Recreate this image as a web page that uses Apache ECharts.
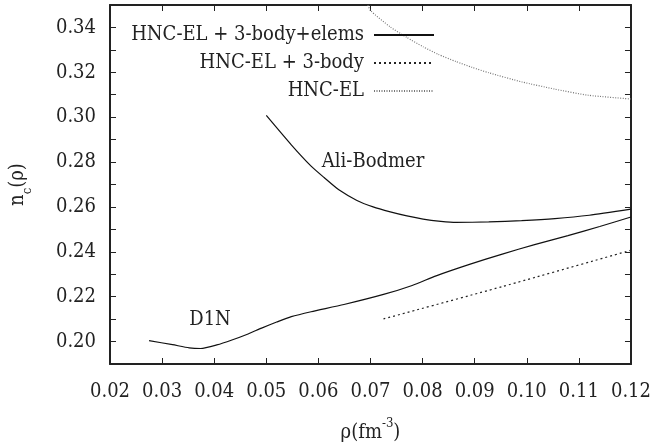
<!DOCTYPE html>
<html>
<head>
<meta charset="utf-8">
<script src="https://cdn.jsdelivr.net/npm/echarts@6/dist/echarts.min.js"></script>
<style>
  html, body { margin: 0; padding: 0; background: #fff; }
  #chart { width: 654px; height: 448px; }
</style>
</head>
<body>
<div id="chart"></div>
<script>
// values
var aliX = [0.0500, 0.0548, 0.0586, 0.0611, 0.0640, 0.0674, 0.0705, 0.0738, 0.0770, 0.0801, 0.0835, 0.0864, 0.0927, 0.0990, 0.1054, 0.1120, 0.1200];
var aliY = [0.3008, 0.2877, 0.2782, 0.2731, 0.2675, 0.2629, 0.2600, 0.2578, 0.2560, 0.2546, 0.2536, 0.2531, 0.2533, 0.2539, 0.2548, 0.2563, 0.2590];
var d1nX = [0.0275, 0.0320, 0.0352, 0.0374, 0.0405, 0.0434, 0.0465, 0.0491, 0.0520, 0.0548, 0.0586, 0.0649, 0.0725, 0.0780, 0.0826, 0.0890, 0.0953, 0.1015, 0.1079, 0.1140, 0.1200];
var d1nY = [0.2004, 0.1986, 0.1972, 0.1969, 0.1985, 0.2007, 0.2034, 0.2060, 0.2087, 0.2111, 0.2133, 0.2165, 0.2210, 0.2250, 0.2293, 0.2344, 0.2390, 0.2432, 0.2472, 0.2513, 0.2555];
var threeBodyX = [0.0725, 0.0953, 0.1200];
var threeBodyY = [0.2101, 0.2245, 0.2407];
var hncX = [0.0695, 0.0700, 0.0738, 0.0770, 0.0801, 0.0830, 0.0864, 0.0895, 0.0927, 0.0991, 0.1054, 0.1117, 0.1200];
var hncY = [0.3500, 0.3475, 0.3402, 0.3355, 0.3314, 0.3280, 0.3248, 0.3222, 0.3198, 0.3157, 0.3125, 0.3098, 0.3081];

var legendNames = ['HNC-EL + 3-body+elems', 'HNC-EL + 3-body', 'HNC-EL'];
var labelAli = { text: 'Ali-Bodmer', x: 0.0705, y: 0.2801 };
var labelD1n = { text: 'D1N', x: 0.0392, y: 0.2098 };

function pairs(xs, ys) {
  return xs.map(function (x, i) { return [x, ys[i]]; });
}

var font = '"DejaVu Serif Condensed", "DejaVu Serif"';
var fs = 20;

var chart = echarts.init(document.getElementById('chart'));

var tickStyle = { show: true, inside: true, length: 6, lineStyle: { color: '#222', width: 1 } };
var axisLine = { show: true, onZero: false, lineStyle: { color: '#222', width: 2 } };

function textMark(lbl) {
  return {
    symbol: 'rect',
    symbolSize: 1,
    itemStyle: { color: 'rgba(0,0,0,0)' },
    label: { show: true, position: 'inside', formatter: lbl.text, fontFamily: font, fontSize: fs, color: '#222' },
    data: [{ coord: [lbl.x, lbl.y] }]
  };
}

var option = {
  animation: false,
  grid: { left: 110, right: 17, top: 5, bottom: 79 },
  legend: {
    data: legendNames,
    orient: 'vertical',
    align: 'right',
    right: 214,
    top: 20,
    itemWidth: 60,
    itemHeight: 20,
    itemGap: 8,
    itemStyle: { opacity: 0 },
    textStyle: { fontFamily: font, fontSize: fs, color: '#222', padding: [0, 5, 0, 0] }
  },
  xAxis: [{
    type: 'value',
    min: 0.02,
    max: 0.12,
    interval: 0.01,
    axisLine: axisLine,
    axisTick: tickStyle,
    splitLine: { show: false },
    axisLabel: {
      fontFamily: font, fontSize: fs, color: '#222', margin: 18,
      formatter: function (v) { return v.toFixed(2); }
    },
    name: '{a|ρ(fm}{s|-3}{a|)}',
    nameLocation: 'middle',
    nameGap: 53,
    nameTextStyle: {
      rich: {
        a: { fontFamily: font, fontSize: fs, color: '#222', lineHeight: 26, verticalAlign: 'bottom' },
        s: { fontFamily: font, fontSize: 13, color: '#222', lineHeight: 26, verticalAlign: 'top' }
      }
    }
  }, {
    type: 'value',
    position: 'top',
    min: 0.02,
    max: 0.12,
    interval: 0.01,
    axisLine: axisLine,
    axisTick: tickStyle,
    axisLabel: { show: false },
    splitLine: { show: false }
  }],
  yAxis: [{
    type: 'value',
    min: 0.19,
    max: 0.35,
    interval: 0.01,
    axisLine: axisLine,
    axisTick: tickStyle,
    splitLine: { show: false },
    axisLabel: {
      fontFamily: font, fontSize: fs, color: '#222', margin: 14,
      formatter: function (v) {
        return Math.round(v * 100) % 2 === 0 ? v.toFixed(2) : '';
      }
    },
    name: '{a|n}{s|c}{a|(ρ)}',
    nameLocation: 'middle',
    nameGap: 76,
    nameTextStyle: {
      rich: {
        a: { fontFamily: font, fontSize: fs, color: '#222', lineHeight: 26, verticalAlign: 'top' },
        s: { fontFamily: font, fontSize: 13, color: '#222', lineHeight: 26, verticalAlign: 'bottom' }
      }
    }
  }, {
    type: 'value',
    position: 'right',
    min: 0.19,
    max: 0.35,
    interval: 0.01,
    axisLine: axisLine,
    axisTick: tickStyle,
    axisLabel: { show: false },
    splitLine: { show: false }
  }],
  series: [
    {
      name: legendNames[0],
      type: 'line',
      data: pairs(aliX, aliY),
      smooth: 0.2,
      symbol: 'none',
      lineStyle: { color: '#111', width: 1.2, type: 'solid' },
      markPoint: textMark(labelAli)
    },
    {
      name: legendNames[0],
      type: 'line',
      data: pairs(d1nX, d1nY),
      smooth: 0.2,
      symbol: 'none',
      lineStyle: { color: '#111', width: 1.2, type: 'solid' },
      markPoint: textMark(labelD1n)
    },
    {
      name: legendNames[1],
      type: 'line',
      data: pairs(threeBodyX, threeBodyY),
      smooth: 0.2,
      symbol: 'none',
      lineStyle: { color: '#222', width: 1.2, type: [2, 3] }
    },
    {
      name: legendNames[2],
      type: 'line',
      data: pairs(hncX, hncY),
      smooth: 0.2,
      symbol: 'none',
      lineStyle: { color: '#777', width: 1.2, type: [1, 1.5] }
    }
  ]
};

chart.setOption(option);
</script>
</body>
</html>
